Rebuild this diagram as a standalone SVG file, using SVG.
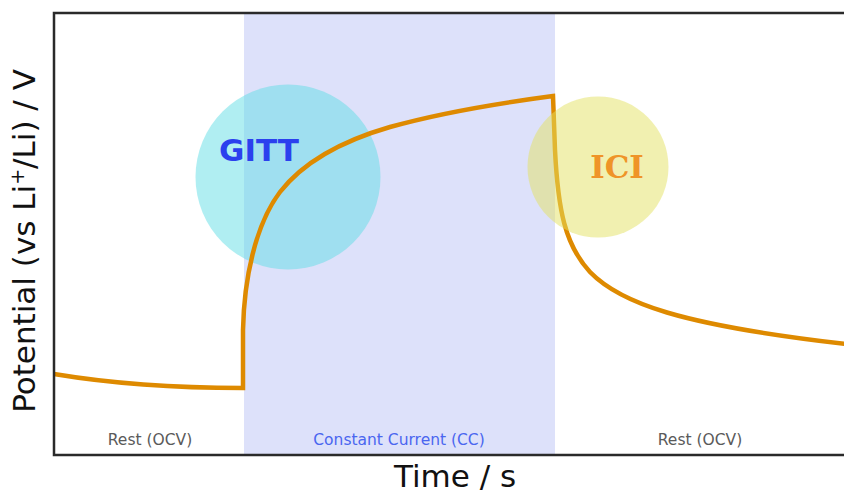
<svg xmlns="http://www.w3.org/2000/svg" width="844" height="494" viewBox="0 0 844 494">
<style>
.phase{font-family:"DejaVu Sans",Verdana,sans-serif;font-size:15.5px;text-anchor:middle}
.axis{font-family:"DejaVu Sans",Verdana,sans-serif;font-size:31px;fill:#111;text-anchor:middle}
.frame{fill:none;stroke:#2a2a2a;stroke-width:2.5}
.trace{fill:none;stroke:#de8a00;stroke-width:4.5;stroke-linejoin:miter}
</style>
<rect x="0" y="0" width="844" height="494" fill="#ffffff"/>
<g id="cc-band">
<rect x="244" y="13" width="311" height="442" fill="#dde1fa"/>
</g>
<g id="gitt">
<circle cx="288" cy="177" r="92.5" fill="#61dde5" fill-opacity="0.5"/>
<text x="259" y="161" font-family="'DejaVu Sans',Verdana,sans-serif" font-weight="bold" font-size="31" fill="#2b40ee" text-anchor="middle">GITT</text>
</g>
<g id="connectors">
<path class="trace" d="M54,374 C120,385 180,388 243,388 L243,330 C244,280 255,225 280,192 C305,160 345,140 390,127 C440,113 500,103 553,96 L555,150 C558,210 565,245 590,272 C620,303 680,325 846,344"/>
</g>
<g id="ici">
<circle cx="598" cy="167" r="70.5" fill="#e3e161" fill-opacity="0.5"/>
<text x="617" y="178" font-family="'DejaVu Serif','Liberation Serif',serif" font-weight="bold" font-size="31" fill="#ef9428" text-anchor="middle">ICI</text>
</g>
<g id="frame">
<path class="frame" d="M846,13 H54 V455 H846"/>
</g>
<g id="phase-labels">
<text class="phase" x="150" y="445" fill="#5a5a5a">Rest (OCV)</text>
<text class="phase" x="399" y="445" fill="#4a66f0">Constant Current (CC)</text>
<text class="phase" x="700" y="445" fill="#5a5a5a">Rest (OCV)</text>
</g>
<g id="axis-labels">
<text class="axis" x="455" y="487">Time / s</text>
<text class="axis" transform="translate(35,241) rotate(-90)">Potential (vs Li<tspan baseline-shift="super" font-size="19">+</tspan>/Li) / V</text>
</g>
</svg>
